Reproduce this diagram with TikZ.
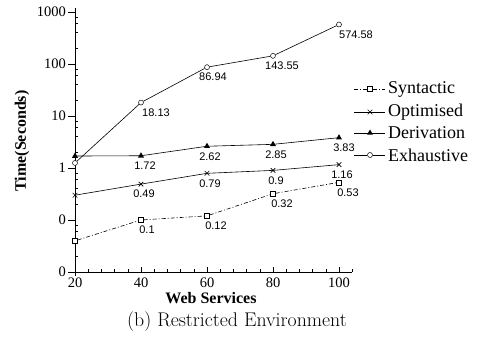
\documentclass[tikz,border=0pt]{standalone}
\usepackage{fontspec}
\usetikzlibrary{shapes.geometric,shapes.misc}
\newfontfamily\timesfont{Liberation Serif}
\newfontfamily\helvfont{Liberation Sans}

\tikzset{
  plotline/.style={line width=0.6pt},
  synline/.style={plotline, dash pattern=on 4pt off 2pt on 1pt off 2pt},
  synmark/.style={draw, rectangle, fill=white, minimum size=5pt, inner sep=0pt, line width=0.5pt},
  optmark/.style={draw, cross out, minimum size=4pt, inner sep=0pt, line width=0.6pt},
  dermark/.style={fill=black, regular polygon, regular polygon sides=3, minimum size=7pt, inner sep=0pt},
  exhmark/.style={draw, circle, fill=white, minimum size=5pt, inner sep=0pt, line width=0.5pt},
  val/.style={font=\helvfont\fontsize{11}{12}\selectfont, inner sep=0pt},
  ticklab/.style={font=\timesfont\fontsize{14.5}{15}\selectfont, inner sep=1pt},
  leglab/.style={font=\timesfont\fontsize{18}{20}\selectfont, anchor=west, inner sep=0pt}
}

\begin{document}
\begin{tikzpicture}[x=1pt,y=1pt]
\useasboundingbox (0,0) rectangle (477,343);

% === Axes (origin at 20 / 0.01) ===
\begin{scope}[shift={(75,71)}]
  \draw[line width=0.6pt] (0,-4) -- (0,264);
  \draw[line width=0.6pt] (0,0) -- (277,0);
  % y ticks, one per decade
  \foreach \k/\lab in {0/0,1/0,2/1,3/10,4/100,5/1000} {
    \draw[line width=0.6pt] (-7,52*\k) -- (0,52*\k);
    \node[ticklab, anchor=east] (yt\k) at (-8,52*\k) {\lab};
  }
  % minor y ticks
  \foreach \k in {0,...,4} {
    \foreach \m in {2,4,6,8} {
      \draw[line width=0.5pt] (0,{52*(\k+log10(\m))}) -- (3,{52*(\k+log10(\m))});
    }
  }
  % x ticks
  \foreach \d in {20,40,...,100} {
    \draw[line width=0.6pt] ({3.3*(\d-20)},0) -- ({3.3*(\d-20)},5);
    \node[ticklab, anchor=north] (xt\d) at ({3.3*(\d-20)},-5) {\d};
  }
  \foreach \d in {24,28,...,104} {
    \draw[line width=0.5pt] ({3.3*(\d-20)},0) -- ({3.3*(\d-20)},3);
  }

  % === Syntactic ===
  \node[synmark] (syn1) at (0,{52*(log10(0.0394)+2)}) {};
  \foreach \d/\v/\dx [count=\i from 2] in {40/0.1/6, 60/0.12/9, 80/0.32/9, 100/0.53/9} {
    \node[synmark] (syn\i) at ({3.3*(\d-20)},{52*(log10(\v)+2)}) {};
    \node[val, xshift=\dx pt, yshift=-10pt] (synv\i) at (syn\i) {\v};
  }
  \draw[synline] (syn1) -- (syn2) -- (syn3) -- (syn4) -- (syn5);

  % === Optimised ===
  \node[optmark] (opt1) at (0,{52*(log10(0.30)+2)}) {};
  \foreach \d/\v/\dx [count=\i from 2] in {40/0.49/3, 60/0.79/3, 80/0.9/3, 100/1.16/3} {
    \node[optmark] (opt\i) at ({3.3*(\d-20)},{52*(log10(\v)+2)}) {};
    \node[val, xshift=\dx pt, yshift=-10pt] (optv\i) at (opt\i) {\v};
  }
  \draw[plotline] (opt1.center) -- (opt2.center) -- (opt3.center) -- (opt4.center) -- (opt5.center);

  % === Derivation ===
  \node[dermark] (der1) at (0,{52*(log10(1.70)+2)}) {};
  \foreach \d/\v/\dx [count=\i from 2] in {40/1.72/4, 60/2.62/3, 80/2.85/3, 100/3.83/5} {
    \node[dermark] (der\i) at ({3.3*(\d-20)},{52*(log10(\v)+2)}) {};
    \node[val, xshift=\dx pt, yshift=-10pt] (derv\i) at (der\i) {\v};
  }
  \draw[plotline] (der1.center) -- (der2.center) -- (der3.center) -- (der4.center) -- (der5.center);

  % === Exhaustive ===
  \node[exhmark] (exh1) at (0,{52*(log10(1.25)+2)}) {};
  \foreach \d/\v/\dx [count=\i from 2] in {40/18.13/15, 60/86.94/6, 80/143.55/9, 100/574.58/17} {
    \node[exhmark] (exh\i) at ({3.3*(\d-20)},{52*(log10(\v)+2)}) {};
    \node[val, xshift=\dx pt, yshift=-10pt] (exhv\i) at (exh\i) {\v};
  }
  \draw[plotline] (exh1) -- (exh2) -- (exh3) -- (exh4) -- (exh5);
\end{scope}

% === Legend ===
\foreach \s/\y/\txt in {syn/254/Syntactic, opt/231/Optimised, der/210/Derivation, exh/188/Exhaustive} {
  \coordinate (\s a) at (354,\y);
  \coordinate (\s b) at (385,\y);
  \node[\s mark] (\s m) at (370,\y) {};
  \node[leglab] (\s t) at (388,\y) {\txt};
}
\draw[synline] (syna) -- (synm) -- (synb);
\draw[plotline] (opta) -- (optb);
\draw[plotline] (dera) -- (derb);
\draw[plotline] (exha) -- (exhm) -- (exhb);

% === Axis labels and caption ===
\node[font=\timesfont\bfseries\fontsize{16}{18}\selectfont, rotate=90] (ylab) at (22,202) {Time(Seconds)};
\node[font=\timesfont\bfseries\fontsize{16}{18}\selectfont] (xlab) at (211,45) {Web Services};
\node[font=\fontsize{19.8}{22}\selectfont] (cap) at (237,21) {(b) Restricted Environment};

\end{tikzpicture}
\end{document}
